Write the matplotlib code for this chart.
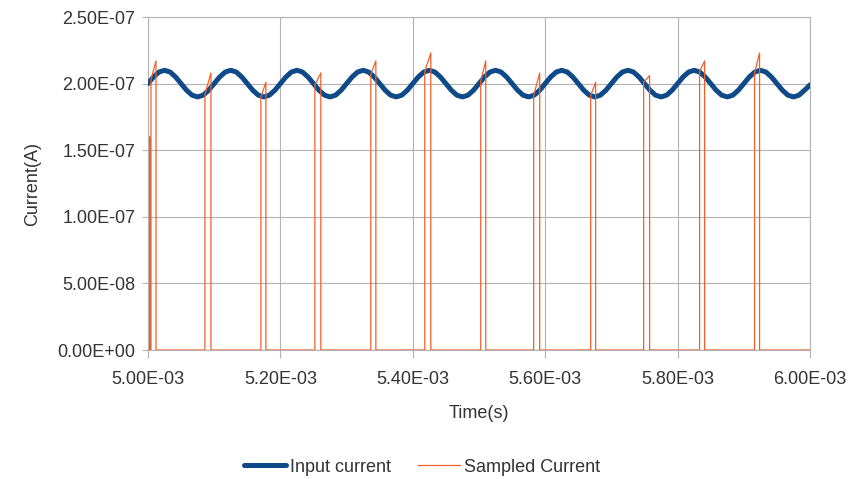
import numpy as np
import matplotlib
matplotlib.use("Agg")
import matplotlib.pyplot as plt

# Input current, read every 1/12 of a cycle (x1e-7 A), 5.00 ms .. 6.00 ms
input_current = [
    2.00, 2.05, 2.087, 2.10, 2.087, 2.05, 2.00, 1.95, 1.913, 1.90, 1.913, 1.95,
    2.00, 2.05, 2.087, 2.10, 2.087, 2.05, 2.00, 1.95, 1.913, 1.90, 1.913, 1.95,
    2.00, 2.05, 2.087, 2.10, 2.087, 2.05, 2.00, 1.95, 1.913, 1.90, 1.913, 1.95,
    2.00, 2.05, 2.087, 2.10, 2.087, 2.05, 2.00, 1.95, 1.913, 1.90, 1.913, 1.95,
    2.00, 2.05, 2.087, 2.10, 2.087, 2.05, 2.00, 1.95, 1.913, 1.90, 1.913, 1.95,
    2.00, 2.05, 2.087, 2.10, 2.087, 2.05, 2.00, 1.95, 1.913, 1.90, 1.913, 1.95,
    2.00, 2.05, 2.087, 2.10, 2.087, 2.05, 2.00, 1.95, 1.913, 1.90, 1.913, 1.95,
    2.00, 2.05, 2.087, 2.10, 2.087, 2.05, 2.00, 1.95, 1.913, 1.90, 1.913, 1.95,
    2.00, 2.05, 2.087, 2.10, 2.087, 2.05, 2.00, 1.95, 1.913, 1.90, 1.913, 1.95,
    2.00, 2.05, 2.087, 2.10, 2.087, 2.05, 2.00, 1.95, 1.913, 1.90, 1.913, 1.95,
    1.99,
]
input_time = np.linspace(5.0e-3, 6.0e-3, len(input_current))

# Sampled current pulses (times in ms, values x1e-7 A)
pulse_on = [5.0045, 5.0860, 5.1706, 5.2521, 5.3366, 5.4181,
            5.5026, 5.5826, 5.6687, 5.7487, 5.8332, 5.9162]
pulse_off = [5.0121, 5.0951, 5.1781, 5.2611, 5.3442, 5.4272,
             5.5102, 5.5917, 5.6762, 5.7577, 5.8408, 5.9238]
pulse_hold = [2.03, 1.92, 1.90, 1.99, 2.07, 2.09,
              2.02, 1.91, 1.91, 2.01, 2.09, 2.08]
pulse_peak = [2.17, 2.08, 2.01, 2.08, 2.17, 2.23,
              2.17, 2.08, 2.01, 2.06, 2.17, 2.23]

x_ticks = [5.0e-3, 5.2e-3, 5.4e-3, 5.6e-3, 5.8e-3, 6.0e-3]
x_labels = ["5.00E-03", "5.20E-03", "5.40E-03", "5.60E-03", "5.80E-03", "6.00E-03"]
y_ticks = [0, 0.5e-7, 1.0e-7, 1.5e-7, 2.0e-7, 2.5e-7]
y_labels = ["0.00E+00", "5.00E-08", "1.00E-07", "1.50E-07", "2.00E-07", "2.50E-07"]

# build the sampled waveform as a step trace
st = [5.0e-3, 5.0030e-3, 5.0030e-3, 5.0030e-3]
sv = [0.0, 0.0, 1.6e-7, 0.0]
for on, off, h, p in zip(pulse_on, pulse_off, pulse_hold, pulse_peak):
    st += [on * 1e-3, on * 1e-3, off * 1e-3, off * 1e-3]
    sv += [0.0, h * 1e-7, p * 1e-7, 0.0]
st.append(6.0e-3)
sv.append(0.0)

plt.rcParams["font.family"] = ["Liberation Sans", "DejaVu Sans"]
fig = plt.figure(figsize=(8.48, 4.79), dpi=100)
ax = fig.add_axes([0.1745, 0.2693, 0.7807, 0.6952])

ax.plot(input_time, np.array(input_current) * 1e-7, color="#0d4a87",
        linewidth=3.6, solid_joinstyle="round", solid_capstyle="round",
        zorder=3, label="Input current")
ax.plot(st, sv, color="#f0602a", linewidth=0.9, zorder=4, label="Sampled Current")

ax.set_xlim(5.0e-3, 6.0e-3)
ax.set_ylim(0, 2.5e-7)
ax.set_xticks(x_ticks)
ax.set_xticklabels(x_labels)
ax.set_yticks(y_ticks)
ax.set_yticklabels(y_labels)
ax.grid(True, color="#b3b3b3", linewidth=0.8)
ax.set_axisbelow(True)
for s in ax.spines.values():
    s.set_color("#b3b3b3")
    s.set_linewidth(0.8)
ax.tick_params(colors="#b3b3b3", labelcolor="#333333", labelsize=13, width=0.8)
ax.tick_params(axis="x", length=6, pad=9)
ax.tick_params(axis="y", length=4, pad=5)

ax.set_xlabel("Time(s)", fontsize=13, color="#333333", labelpad=12)
ax.set_ylabel("Current(A)", fontsize=13, color="#333333", labelpad=12)

fig.legend(loc="center", bbox_to_anchor=(0.498, 0.025), ncol=2, frameon=False,
           fontsize=13, handlelength=2.3, columnspacing=1.5, handletextpad=0.25,
           labelcolor="#333333")

fig.savefig("out.png", dpi=100)
